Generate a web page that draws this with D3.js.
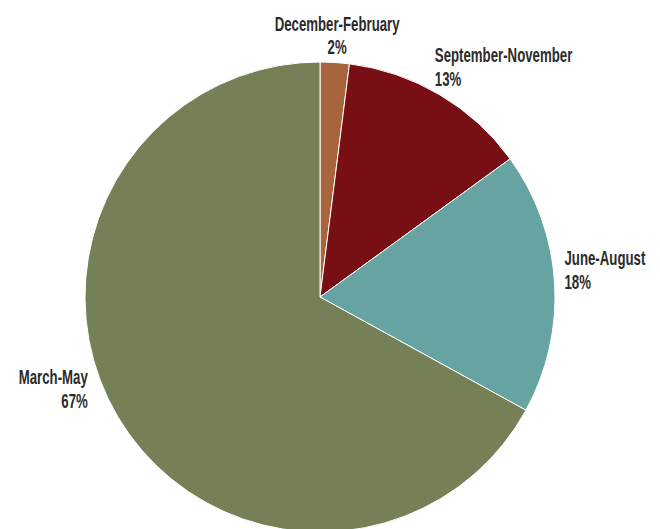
<!DOCTYPE html>
<html>
<head>
<meta charset="utf-8">
<script src="https://cdn.jsdelivr.net/npm/d3@7"></script>
<style>
  body { margin: 0; background: #fff; }
  .lbl { font-family: "Liberation Sans", Arial, sans-serif; font-weight: bold; font-size: 21px; fill: #2b2b2b; }
</style>
</head>
<body>
<div id="chart"></div>
<script>
var seasons = ["December-February", "September-November", "June-August", "March-May"];
var shares = [2, 13, 18, 67];
var colors = ["#a8643d", "#780f15", "#66a3a1", "#758057"];

var w = 660, h = 529;
var cx = 320, cy = 297, r = 235;

// label nudges relative to the outer centroid, and text anchors
var nudge = [[1, -10], [-16, -14], [-12, -16], [-11, -44]];
var anchors = ["middle", "start", "start", "end"];
var squeeze = 0.63; // condensed look

var svg = d3.select("#chart")
  .append("svg")
  .attr("width", w)
  .attr("height", h)
  .append("g")
  .attr("transform", "translate(" + cx + "," + cy + ")");

var data = seasons.map(function(s, i) { return {name: s, value: shares[i], i: i}; });

var pie = d3.pie().sort(null).value(function(d) { return d.value; });
var arc = d3.arc().innerRadius(0).outerRadius(r);
var outer = d3.arc().innerRadius(r + 22).outerRadius(r + 22);

var arcs = pie(data);

svg.selectAll(".slice")
  .data(arcs)
  .enter().append("path")
  .attr("class", "slice")
  .attr("d", arc)
  .attr("fill", function(d) { return colors[d.data.i]; })
  .attr("stroke", "#fff")
  .attr("stroke-width", 1);

var labels = svg.selectAll(".lbl")
  .data(arcs)
  .enter().append("text")
  .attr("class", "lbl")
  .attr("text-anchor", function(d) { return anchors[d.data.i]; })
  .attr("transform", function(d) {
    var c = outer.centroid(d);
    var n = nudge[d.data.i];
    return "translate(" + (c[0] + n[0]) + "," + (c[1] + n[1]) + ") scale(" + squeeze + ",1)";
  });

labels.append("tspan")
  .attr("x", 0)
  .attr("y", 0)
  .text(function(d) { return d.data.name; });

labels.append("tspan")
  .attr("x", 0)
  .attr("y", 24)
  .text(function(d) { return d.data.value + "%"; });
</script>
</body>
</html>
